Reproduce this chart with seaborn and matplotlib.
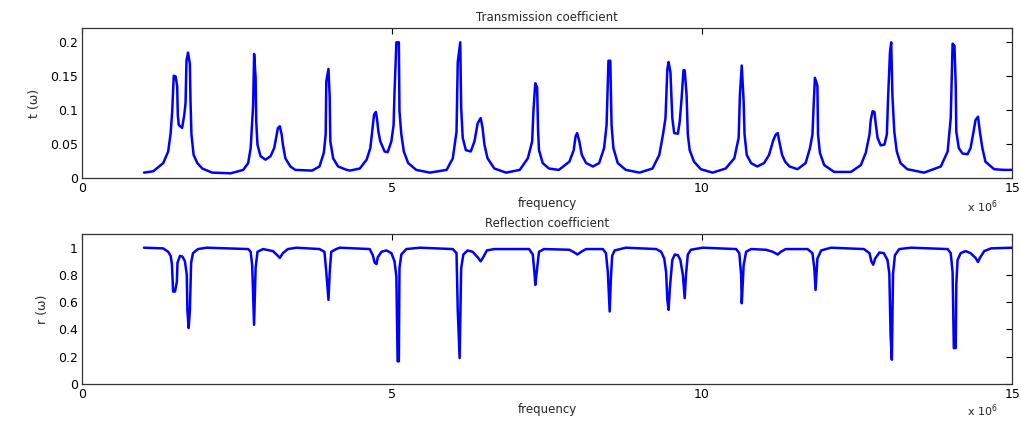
import numpy as np
import pandas as pd
import matplotlib
matplotlib.use("Agg")
import matplotlib.pyplot as plt
import seaborn as sns

# ---- data (frequency in units of 1e6) ----
freq_t = [1.00, 1.15, 1.31, 1.39, 1.43, 1.455, 1.48, 1.51, 1.535, 1.545, 1.56, 1.615, 1.65, 1.67,
          1.685, 1.71, 1.74, 1.75, 1.765, 1.80, 1.86, 1.94, 2.10, 2.40, 2.60, 2.68, 2.72, 2.745,
          2.76, 2.776, 2.80, 2.81, 2.83, 2.88, 2.96, 3.04, 3.10, 3.14, 3.16, 3.19, 3.22, 3.24,
          3.28, 3.36, 3.44, 3.71, 3.83, 3.90, 3.93, 3.94, 3.975, 3.995, 4.005, 4.05, 4.13, 4.27,
          4.32, 4.48, 4.59, 4.65, 4.68, 4.71, 4.74, 4.76, 4.78, 4.81, 4.88, 4.93, 4.99, 5.025,
          5.04, 5.07, 5.11, 5.12, 5.15, 5.19, 5.26, 5.39, 5.61, 5.88, 5.98, 6.04, 6.06, 6.10,
          6.115, 6.14, 6.19, 6.27, 6.33, 6.38, 6.43, 6.46, 6.49, 6.54, 6.65, 6.84, 7.06, 7.19,
          7.26, 7.28, 7.31, 7.34, 7.355, 7.37, 7.43, 7.53, 7.69, 7.86, 7.93, 7.96, 7.985, 8.02,
          8.06, 8.13, 8.24, 8.34, 8.42, 8.46, 8.49, 8.52, 8.54, 8.57, 8.64, 8.77, 8.99, 9.20,
          9.31, 9.37, 9.41, 9.44, 9.46, 9.49, 9.52, 9.55, 9.61, 9.64, 9.67, 9.70, 9.72, 9.75,
          9.77, 9.80, 9.87, 9.98, 10.17, 10.38, 10.52, 10.59, 10.61, 10.64, 10.67, 10.685, 10.72,
          10.79, 10.89, 11.00, 11.08, 11.15, 11.19, 11.22, 11.24, 11.29, 11.34, 11.41, 11.54,
          11.67, 11.74, 11.78, 11.80, 11.82, 11.86, 11.87, 11.90, 11.97, 12.13, 12.40, 12.56,
          12.64, 12.70, 12.72, 12.75, 12.78, 12.80, 12.83, 12.88, 12.94, 12.98, 13.00, 13.03,
          13.05, 13.07, 13.10, 13.14, 13.20, 13.31, 13.58, 13.85, 13.96, 14.01, 14.04, 14.07,
          14.09, 14.10, 14.14, 14.20, 14.28, 14.33, 14.37, 14.41, 14.45, 14.48, 14.52, 14.57,
          14.71, 14.87, 15.00]
t_vals = [0.008, 0.010, 0.022, 0.039, 0.066, 0.098, 0.150, 0.149, 0.135, 0.093, 0.078, 0.0735, 0.093, 0.110,
          0.172, 0.184, 0.167, 0.113, 0.064, 0.034, 0.022, 0.014, 0.008, 0.007, 0.012, 0.022, 0.044, 0.083,
          0.107, 0.182, 0.147, 0.083, 0.049, 0.032, 0.027, 0.032, 0.044, 0.064, 0.0735, 0.076, 0.064, 0.049,
          0.029, 0.017, 0.012, 0.011, 0.017, 0.037, 0.064, 0.142, 0.160, 0.118, 0.054, 0.029, 0.017, 0.012,
          0.011, 0.014, 0.027, 0.044, 0.068, 0.093, 0.097, 0.085, 0.068, 0.054, 0.039, 0.038, 0.054, 0.078,
          0.125, 0.199, 0.199, 0.098, 0.064, 0.039, 0.022, 0.012, 0.008, 0.012, 0.029, 0.068, 0.170, 0.199,
          0.103, 0.059, 0.041, 0.039, 0.054, 0.080, 0.088, 0.0735, 0.049, 0.029, 0.014, 0.008, 0.012, 0.029,
          0.054, 0.098, 0.139, 0.133, 0.070, 0.041, 0.022, 0.014, 0.012, 0.024, 0.041, 0.061, 0.066, 0.054,
          0.034, 0.022, 0.017, 0.022, 0.044, 0.078, 0.172, 0.172, 0.078, 0.044, 0.022, 0.012, 0.008, 0.014,
          0.034, 0.064, 0.088, 0.160, 0.170, 0.155, 0.088, 0.066, 0.065, 0.083, 0.117, 0.158, 0.158, 0.122,
          0.064, 0.041, 0.024, 0.013, 0.008, 0.014, 0.029, 0.059, 0.122, 0.165, 0.113, 0.064, 0.034,
          0.022, 0.017, 0.022, 0.034, 0.056, 0.064, 0.066, 0.056, 0.034, 0.024, 0.017, 0.013,
          0.022, 0.044, 0.064, 0.108, 0.147, 0.135, 0.064, 0.037, 0.019, 0.009, 0.009, 0.019,
          0.037, 0.064, 0.085, 0.098, 0.097, 0.080, 0.059, 0.048, 0.049, 0.064, 0.118, 0.184,
          0.199, 0.120, 0.068, 0.039, 0.022, 0.013, 0.008, 0.017, 0.039, 0.088, 0.197, 0.194,
          0.138, 0.068, 0.044, 0.036, 0.035, 0.044, 0.064, 0.085, 0.090, 0.068, 0.044, 0.024,
          0.013, 0.012, 0.012]

freq_r = [1.00, 1.31, 1.39, 1.43, 1.45, 1.47, 1.50, 1.53, 1.54, 1.58, 1.62, 1.66, 1.69, 1.70, 1.72,
          1.74, 1.76, 1.79, 1.87, 2.01, 2.68, 2.72, 2.745, 2.775, 2.80, 2.83, 2.92, 3.08, 3.16,
          3.19, 3.24, 3.32, 3.46, 3.83, 3.91, 3.94, 3.96, 3.975, 3.995, 4.02, 4.10, 4.157, 4.64,
          4.69, 4.72, 4.75, 4.77, 4.83, 4.91, 4.99, 5.04, 5.07, 5.09, 5.11, 5.12, 5.15, 5.23,
          5.45, 5.98, 6.04, 6.06, 6.09, 6.115, 6.15, 6.22, 6.30, 6.38, 6.43, 6.47, 6.53, 6.65,
          7.21, 7.27, 7.30, 7.31, 7.34, 7.37, 7.45, 7.86, 7.94, 7.99, 8.05, 8.13, 8.40, 8.45,
          8.48, 8.51, 8.53, 8.55, 8.59, 8.77, 9.26, 9.34, 9.39, 9.42, 9.44, 9.46, 9.48, 9.52,
          9.56, 9.61, 9.65, 9.69, 9.72, 9.74, 9.77, 9.82, 10.01, 10.55, 10.60, 10.63, 10.64,
          10.67, 10.71, 10.79, 11.03, 11.14, 11.22, 11.27, 11.35, 11.70, 11.78, 11.81, 11.83,
          11.86, 11.92, 12.08, 12.61, 12.70, 12.73, 12.76, 12.79, 12.86, 12.93, 12.99, 13.02,
          13.04, 13.06, 13.08, 13.11, 13.18, 13.37, 13.96, 14.01, 14.04, 14.06, 14.09, 14.10,
          14.12, 14.17, 14.25, 14.33, 14.41, 14.45, 14.48, 14.55, 14.66, 15.00]
r_vals = [1.000, 0.995, 0.970, 0.940, 0.880, 0.678, 0.678, 0.750, 0.890, 0.940, 0.935, 0.900, 0.800, 0.540, 0.410,
          0.540, 0.890, 0.960, 0.990, 1.000, 0.990, 0.970, 0.870, 0.434, 0.850, 0.970, 0.990, 0.975, 0.940,
          0.925, 0.960, 0.990, 1.000, 0.990, 0.970, 0.820, 0.700, 0.617, 0.820, 0.970, 0.990, 1.000, 0.990,
          0.945, 0.890, 0.880, 0.930, 0.970, 0.980, 0.960, 0.900, 0.787, 0.166, 0.166, 0.850, 0.950, 0.990,
          1.000, 0.990, 0.960, 0.540, 0.190, 0.850, 0.950, 0.980, 0.970, 0.930, 0.900, 0.930, 0.980, 0.990,
          0.990, 0.950, 0.800, 0.727, 0.850, 0.970, 0.990, 0.985, 0.965, 0.950, 0.970, 0.990, 0.990, 0.960,
          0.820, 0.532, 0.780, 0.940, 0.980, 1.000, 0.990, 0.970, 0.920, 0.820, 0.617, 0.544, 0.700, 0.910,
          0.950, 0.945, 0.910, 0.800, 0.630, 0.800, 0.950, 0.985, 1.000, 0.990, 0.960, 0.800, 0.592,
          0.870, 0.970, 0.990, 0.985, 0.970, 0.950, 0.970, 0.990, 0.990, 0.960, 0.850, 0.690,
          0.920, 0.980, 1.000, 0.990, 0.960, 0.900, 0.875, 0.920, 0.965, 0.960, 0.910, 0.810,
          0.360, 0.178, 0.810, 0.945, 0.990, 1.000, 0.990, 0.960, 0.820, 0.263, 0.263, 0.730,
          0.910, 0.960, 0.975, 0.960, 0.925, 0.895, 0.925, 0.975, 0.995, 1.000]

x_ticks = [0, 5, 10, 15]
t_ticks = [0, 0.05, 0.1, 0.15, 0.2]
t_ticklabels = ["0", "0.05", "0.1", "0.15", "0.2"]
r_ticks = [0, 0.2, 0.4, 0.6, 0.8, 1]
r_ticklabels = ["0", "0.2", "0.4", "0.6", "0.8", "1"]

df_t = pd.DataFrame({"frequency": freq_t, "t": t_vals})
df_r = pd.DataFrame({"frequency": freq_r, "r": r_vals})

sns.set_theme(style="white")
plt.rcParams["font.family"] = ["DejaVu Sans"]
plt.rcParams["xtick.direction"] = "in"
plt.rcParams["ytick.direction"] = "in"

fig = plt.figure(figsize=(10.21, 4.21), dpi=100)
ax1 = fig.add_axes([0.0803, 0.577, 0.911, 0.3565])
ax2 = fig.add_axes([0.0803, 0.088, 0.911, 0.356])

blue = "#0000FF"
sns.lineplot(data=df_t, x="frequency", y="t", ax=ax1, color=blue, linewidth=1.8,
             estimator=None, sort=False)
sns.lineplot(data=df_r, x="frequency", y="r", ax=ax2, color=blue, linewidth=1.8,
             estimator=None, sort=False)

def style(ax, ylim, yticks, yticklabels, title, ylabel):
    ax.set_xlim(0, 15)
    ax.set_ylim(*ylim)
    ax.set_xticks(x_ticks)
    ax.set_xticklabels([str(v) for v in x_ticks])
    ax.set_yticks(yticks)
    ax.set_yticklabels(yticklabels)
    ax.tick_params(axis="both", which="both", direction="in", length=4, width=0.8,
                   labelsize=9, colors="black", top=True, right=True, pad=3)
    for s in ax.spines.values():
        s.set_color("#333333")
        s.set_linewidth(0.9)
    ax.set_title(title, fontsize=8.5, pad=5)
    ax.set_xlabel("frequency", fontsize=8.5, labelpad=1)
    ax.set_ylabel(ylabel, fontsize=9, labelpad=6)

style(ax1, (0, 0.22), t_ticks, t_ticklabels, "Transmission coefficient", "t (ω)")
style(ax2, (0, 1.1), r_ticks, r_ticklabels, "Reflection coefficient", "r (ω)")

fig.text(0.947, 0.497, r"x 10$^6$", fontsize=8)
fig.text(0.947, 0.012, r"x 10$^6$", fontsize=8)

fig.savefig("out.png", dpi=100)
